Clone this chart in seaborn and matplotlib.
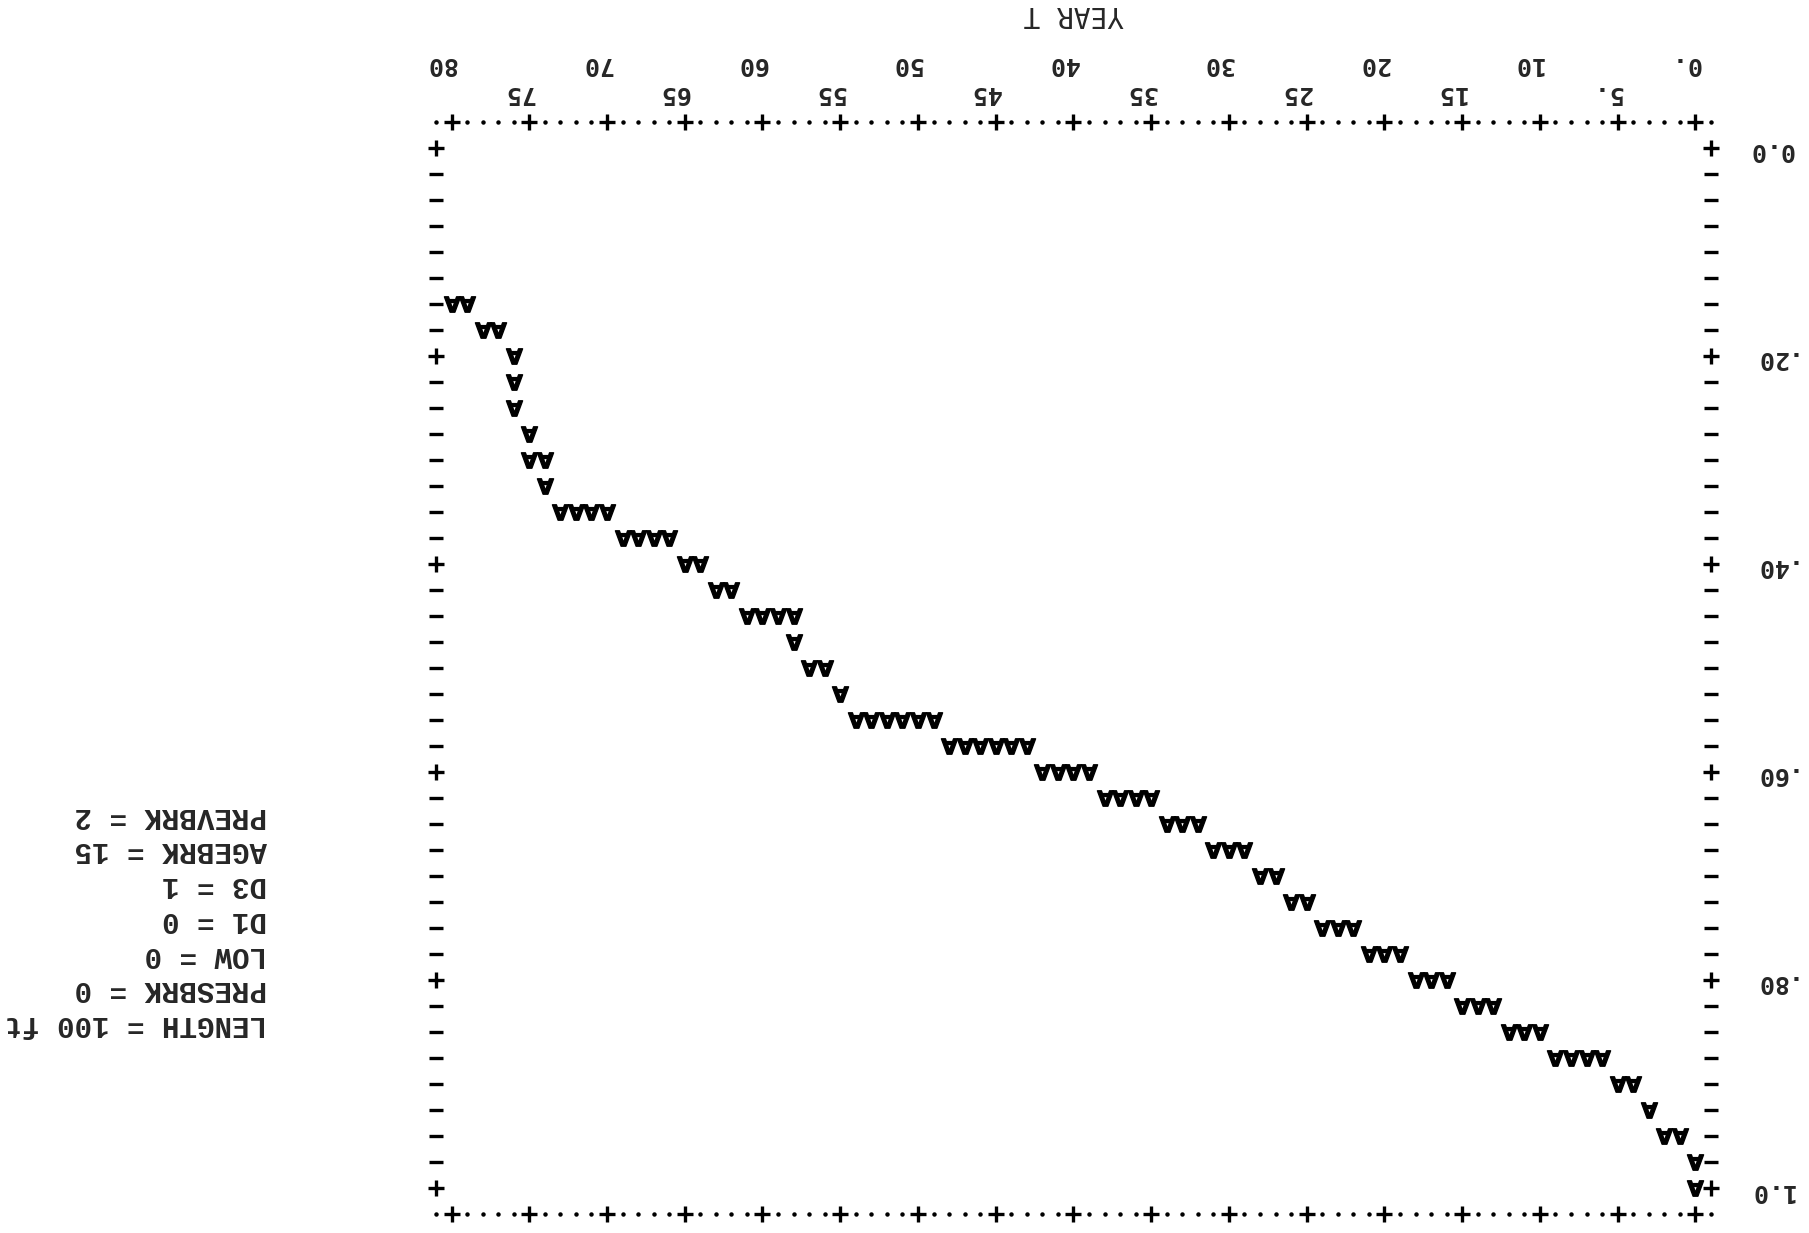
import numpy as np
import pandas as pd
import matplotlib
matplotlib.use("Agg")
import matplotlib.pyplot as plt
import seaborn as sns
from matplotlib.markers import MarkerStyle
from matplotlib.transforms import Affine2D

# ---- data: line-printer rows (value level, first year, last year) ----
row_values = [1.000, 0.975, 0.950, 0.925, 0.900, 0.875, 0.850, 0.825, 0.800,
              0.775, 0.750, 0.725, 0.700, 0.675, 0.650, 0.625, 0.600, 0.575,
              0.550, 0.525, 0.500, 0.475, 0.450, 0.425, 0.400, 0.375, 0.350,
              0.325, 0.300, 0.275, 0.250, 0.225, 0.200, 0.175, 0.150]
row_first_year = [0, 0, 1, 3, 4, 6, 10, 13, 16, 19, 22, 25, 27, 29, 32, 35, 39, 43,
                  49, 55, 56, 58, 58, 62, 64, 66, 70, 74, 74, 75, 76, 76, 76, 77, 79]
row_last_year = [0, 0, 2, 3, 5, 9, 12, 15, 18, 21, 24, 26, 28, 31, 34, 38, 42, 48,
                 54, 55, 57, 58, 61, 63, 65, 69, 73, 74, 75, 75, 76, 76, 76, 78, 80]

x_major = list(range(0, 81, 5))
x_labels_tens = ["0." if t == 0 else (str(t) if t % 10 == 0 else "") for t in x_major]
x_fives = list(range(5, 80, 10))
x_labels_fives = ["5." if t == 5 else str(t) for t in x_fives]
y_major = [0.0, 0.2, 0.4, 0.6, 0.8, 1.0]
y_labels = ["0.0", ".20", ".40", ".60", ".80", "1.0"]
param_lines = ["LENGTH = 100 ft", "PRESBRK = 0", "LOW = 0", "D1 = 0",
               "D3 = 1", "AGEBRK = 15", "PREVBRK = 2"]

years, values = [], []
for v, a, b in zip(row_values, row_first_year, row_last_year):
    for t in range(a, b + 1):
        years.append(t)
        values.append(v)
df = pd.DataFrame({"YEAR T": years, "value": values})

# ---- figure ----
sns.set_theme(style="white")
plt.rcParams["font.family"] = ["DejaVu Sans Mono", "DejaVu Sans"]
plt.rcParams["font.weight"] = "bold"

fig = plt.figure(figsize=(18.09, 12.33), dpi=100)
ax = fig.add_axes([0.2410, 0.0154, 0.7048, 0.8857])

amark = MarkerStyle(r"$\mathsf{A}$", transform=Affine2D().rotate_deg(180))
sns.scatterplot(data=df, x="YEAR T", y="value", marker=amark, s=135,
                color="black", edgecolor="black", linewidth=1.0,
                ax=ax, legend=False)

ax.set_xlim(81, -1)
ax.set_ylim(1.025, -0.025)
for s in ax.spines.values():
    s.set_visible(False)

ax.set_xticks(x_major)
ax.set_xticklabels([(" " + l) if l else "" for l in x_labels_tens])
ax.set_xticks([t for t in range(-1, 82) if t % 5], minor=True)
ax.set_yticks(y_major)
ax.set_yticklabels(y_labels)
ax.set_yticks([k * 0.025 for k in range(41) if k % 8], minor=True)

ax.tick_params(axis="x", which="both", bottom=True, top=True, labelbottom=False,
               labeltop=True, length=0, pad=33, labelsize=18, labelrotation=180)
ax.tick_params(axis="y", which="both", left=True, right=True, labelleft=False,
               labelright=True, length=0, pad=27, labelsize=18, labelrotation=180)


def style_ticks(ticks, marker, size, mew):
    for t in ticks:
        for ln in (t.tick1line, t.tick2line):
            ln.set_marker(marker)
            ln.set_markersize(size)
            ln.set_markeredgewidth(mew)
            ln.set_markerfacecolor("black")
            ln.set_markeredgecolor("black")


style_ticks(ax.xaxis.get_major_ticks(), "+", 11, 2.4)
style_ticks(ax.xaxis.get_minor_ticks(), ".", 4, 1.2)
style_ticks(ax.yaxis.get_major_ticks(), "+", 11, 2.4)
style_ticks(ax.yaxis.get_minor_ticks(), "_", 10, 2.4)

sec = ax.secondary_xaxis("top")
sec.set_xticks(x_fives)
sec.set_xticklabels([" " + l for l in x_labels_fives])
sec.tick_params(length=0, pad=12, labelsize=18, labelrotation=180)
for s in sec.spines.values():
    s.set_visible(False)

ax.set_xlabel("YEAR T", fontsize=20, rotation=180, labelpad=22)
ax.xaxis.set_label_position("top")
ax.set_ylabel("")

# parameter block (printed upside down)
for i, line in enumerate(param_lines):
    fig.text(267 / 1809, 1 - (1024 - i * 34.7) / 1233, line, rotation=180,
             ha="right", va="center", fontsize=21, family="Liberation Mono",
             weight="bold")

fig.savefig("out.png", dpi=100, facecolor="white")
